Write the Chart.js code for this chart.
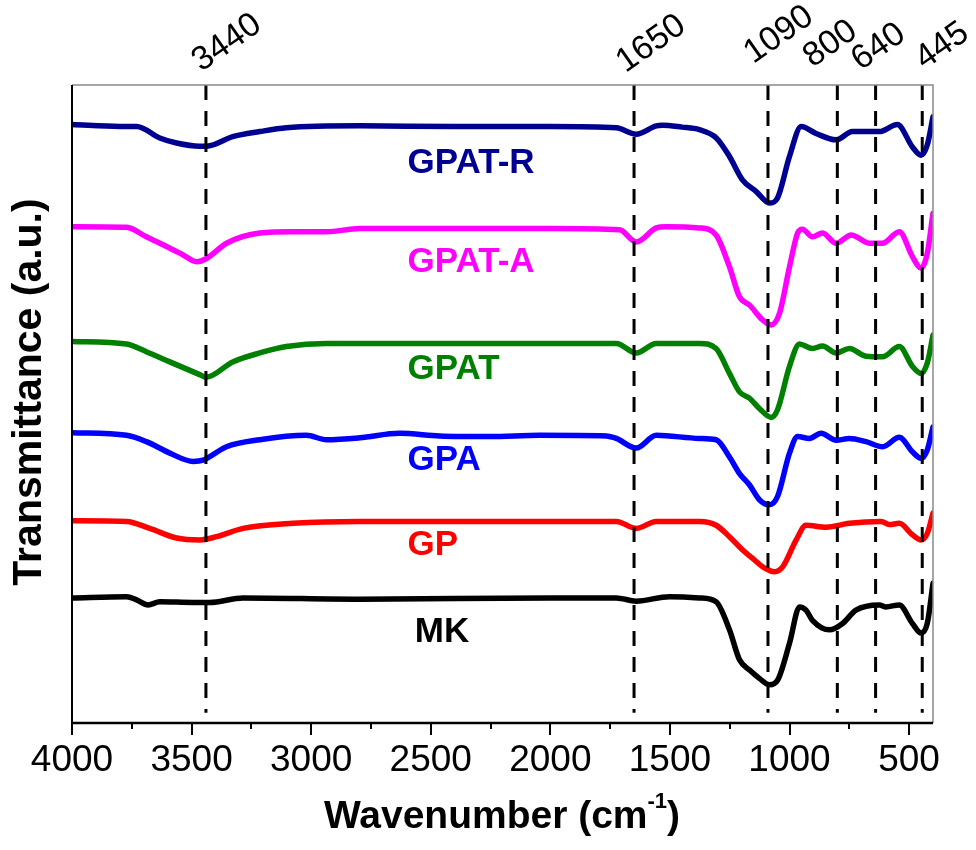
<!DOCTYPE html>
<html>
<head>
<meta charset="utf-8">
<title>FTIR spectra</title>
<script src="https://cdn.jsdelivr.net/npm/chart.js@4.4.0/dist/chart.umd.min.js"></script>
<style>
  html, body { margin: 0; padding: 0; background: #fff; }
  canvas { display: block; }
</style>
</head>
<body>
<canvas id="ftir" width="976" height="850"></canvas>
<script>
// Spectra: [wavenumber (cm-1), transmittance (a.u., offset per sample)]
const seriesNames = ['GPAT-R', 'GPAT-A', 'GPAT', 'GPA', 'GP', 'MK'];

const gpatR = [[4000,93.8],[3800,93.5],[3730,93.5],[3633,91.7],[3563,90.9],[3466,90.4],[3437,90.4],[3328,91.9],[3215,92.7],[3104,93.3],[2797,93.6],[2400,93.5],[2000,93.5],[1724,93.3],[1641,92.3],[1557,93.6],[1531,93.7],[1450,93.4],[1377,93.0],[1306,91.7],[1251,88.8],[1196,85.1],[1139,83.3],[1084,81.5],[1050,82.3],[1000,88.8],[951,93.5],[889,92.4],[805,91.4],[737,92.7],[624,92.7],[549,93.8],[486,90.3],[450,89.0],[424,90.6],[400,95.0]];

const gpatA = [[4000,77.8],[3772,77.7],[3689,76.2],[3605,74.7],[3537,73.4],[3480,72.3],[3438,72.8],[3354,75.2],[3215,76.8],[3077,77.0],[2936,77.0],[2797,77.5],[2400,77.5],[2000,77.5],[1711,77.3],[1641,75.4],[1557,77.6],[1516,77.8],[1377,77.6],[1307,76.5],[1251,71.5],[1209,66.8],[1167,65.5],[1113,63.2],[1077,62.4],[1042,64.2],[1000,71.5],[966,76.8],[946,77.4],[904,76.2],[862,76.8],[805,75.2],[742,76.5],[666,75.2],[611,75.2],[541,77.0],[486,73.1],[450,71.3],[424,73.6],[400,79.9]];

const gpat = [[4000,59.8],[3772,59.4],[3689,58.2],[3591,56.6],[3466,54.6],[3440,54.2],[3328,56.6],[3215,58.0],[3104,59.0],[2936,59.5],[2400,59.5],[2000,59.5],[1724,59.5],[1641,58.0],[1557,59.5],[1377,59.5],[1307,58.7],[1251,54.8],[1209,51.9],[1167,50.9],[1126,49.3],[1077,47.9],[1050,49.1],[1000,55.9],[958,59.4],[904,58.7],[862,59.1],[805,58.0],[750,58.7],[680,57.5],[611,57.4],[541,59.0],[486,55.9],[450,54.8],[424,56.4],[400,60.8]];

const gpa = [[4000,45.5],[3772,45.1],[3689,44.1],[3591,42.3],[3493,41.0],[3452,41.2],[3354,43.3],[3215,44.4],[3020,45.1],[2936,44.4],[2797,44.7],[2630,45.4],[2463,45.0],[2254,44.9],[2045,45.1],[1766,45.0],[1724,44.6],[1641,43.1],[1557,45.1],[1377,44.6],[1307,44.4],[1251,41.7],[1209,39.1],[1167,37.3],[1126,35.0],[1084,34.2],[1050,35.5],[1000,42.3],[966,44.9],[917,44.6],[868,45.4],[805,44.3],[750,44.6],[680,44.1],[610,43.3],[541,44.8],[486,42.5],[450,41.5],[424,42.8],[400,46.4]];

const gp = [[4000,31.7],[3772,31.6],[3675,30.5],[3563,29.0],[3466,28.7],[3396,29.2],[3285,30.5],[3076,31.3],[2797,31.6],[2000,31.6],[1724,31.6],[1641,30.5],[1557,31.6],[1377,31.6],[1307,31.0],[1251,29.2],[1196,27.1],[1154,25.8],[1105,24.3],[1063,23.7],[1028,24.5],[972,28.7],[931,31.0],[847,30.7],[750,31.3],[617,31.6],[583,31.1],[541,31.3],[486,29.5],[450,28.7],[424,29.7],[400,32.9]];

const mk = [[4000,19.6],[3772,19.8],[3730,19.3],[3682,18.5],[3633,19.0],[3493,18.9],[3424,18.9],[3285,19.6],[2797,19.4],[2000,19.6],[1724,19.6],[1641,19.1],[1502,19.8],[1377,19.6],[1307,19.0],[1251,14.6],[1209,9.9],[1167,8.3],[1126,7.0],[1084,6.0],[1050,6.7],[1000,12.5],[958,18.2],[931,17.7],[904,16.1],[833,14.6],[778,15.6],[722,17.7],[624,18.5],[597,18.2],[541,18.5],[486,15.6],[450,14.1],[424,15.6],[400,21.9]];

// Marked absorption bands (cm-1)
const bandPositions = [3440, 1650, 1090, 800, 640, 445];

// Bottom axis tick labels
const xTickLabels = ['4000', '3500', '3000', '2500', '2000', '1500', '1000', '500'];

// ---- styling ----
const seriesData = [gpatR, gpatA, gpat, gpa, gp, mk];
const seriesColors = ['#000090', '#ff00ff', '#008000', '#0000ff', '#ff0000', '#000000'];
// label anchor (wavenumber at left edge, level at text baseline)
const seriesLabelAnchor = [[2597, 86.2], [2597, 70.7], [2597, 53.9], [2597, 39.7], [2597, 26.3], [2567, 12.7]];
// band label offsets from the dashed line (px) and label centre height (px from top)
const bandLabelDx = [21, 17, 11, -7, 3, 20];
const bandLabelY = [43, 44, 35, 44, 47, 46];

const FONT = '"Liberation Sans", Arial, Helvetica, sans-serif';

const datasets = [];
bandPositions.forEach(v => {
  datasets.push({
    data: [{ x: v, y: 100 }, { x: v, y: 1.6 }],
    borderColor: '#000',
    borderWidth: 3,
    borderDash: [15, 11],
    pointRadius: 0,
    order: 0
  });
});
seriesData.forEach((s, i) => {
  datasets.push({
    label: seriesNames[i],
    data: s.map(p => ({ x: p[0], y: p[1] })),
    borderColor: seriesColors[i],
    borderWidth: 5.5,
    borderJoinStyle: 'round',
    borderCapStyle: 'round',
    pointRadius: 0,
    cubicInterpolationMode: 'monotone',
    order: 1
  });
});

const decor = {
  id: 'decor',
  afterDatasetsDraw(chart) {
    const { ctx, scales: { x, y } } = chart;
    ctx.save();
    // series names
    ctx.textAlign = 'left';
    ctx.textBaseline = 'alphabetic';
    ctx.font = 'bold 35px ' + FONT;
    seriesNames.forEach((n, i) => {
      ctx.fillStyle = seriesColors[i];
      ctx.fillText(n, x.getPixelForValue(seriesLabelAnchor[i][0]), y.getPixelForValue(seriesLabelAnchor[i][1]));
    });
    ctx.restore();
  },
  afterDraw(chart) {
    const { ctx, chartArea: a, scales: { x } } = chart;
    ctx.save();
    // frame: gray top/right, black left/bottom
    ctx.strokeStyle = '#8a8a8a';
    ctx.lineWidth = 1.5;
    ctx.beginPath();
    ctx.moveTo(a.left, a.top);
    ctx.lineTo(a.right, a.top);
    ctx.lineTo(a.right, a.bottom);
    ctx.stroke();
    ctx.strokeStyle = '#000';
    ctx.lineWidth = 2;
    ctx.beginPath();
    ctx.moveTo(a.left, a.top);
    ctx.lineTo(a.left, a.bottom);
    ctx.stroke();
    ctx.lineWidth = 2.5;
    ctx.beginPath();
    ctx.moveTo(a.left - 1, a.bottom);
    ctx.lineTo(a.right, a.bottom);
    ctx.stroke();
    // tick marks, majors every 500, minors between
    ctx.lineWidth = 2;
    for (let v = 4000; v >= 500; v -= 250) {
      const px = Math.round(x.getPixelForValue(v));
      const len = (v % 500 === 0) ? 12 : 6;
      ctx.beginPath();
      ctx.moveTo(px, a.bottom);
      ctx.lineTo(px, a.bottom + len);
      ctx.stroke();
    }
    // band labels above the plot
    ctx.fillStyle = '#000';
    ctx.font = '34px ' + FONT;
    ctx.textAlign = 'center';
    ctx.textBaseline = 'middle';
    bandPositions.forEach((v, i) => {
      ctx.save();
      ctx.translate(x.getPixelForValue(v) + bandLabelDx[i], bandLabelY[i]);
      ctx.rotate(-35 * Math.PI / 180);
      ctx.fillText(String(v), 0, 0);
      ctx.restore();
    });
    // y axis title
    ctx.save();
    ctx.translate(30, 392);
    ctx.rotate(-Math.PI / 2);
    ctx.font = 'bold 41px ' + FONT;
    ctx.textAlign = 'center';
    ctx.textBaseline = 'middle';
    ctx.fillText('Transmittance (a.u.)', 0, 0);
    ctx.restore();
    // x axis title with superscript
    const main = 'Wavenumber (cm', sup = '-1', close = ')';
    const fMain = 'bold 39px ' + FONT, fSup = 'bold 22px ' + FONT;
    ctx.textAlign = 'left';
    ctx.textBaseline = 'alphabetic';
    ctx.font = fMain;
    const wMain = ctx.measureText(main).width, wClose = ctx.measureText(close).width;
    ctx.font = fSup;
    const wSup = ctx.measureText(sup).width;
    let sx = 502 - (wMain + wSup + wClose) / 2;
    const base = 828;
    ctx.font = fMain;
    ctx.fillText(main, sx, base);
    sx += wMain;
    ctx.font = fSup;
    ctx.fillText(sup, sx, base - 20);
    sx += wSup;
    ctx.font = fMain;
    ctx.fillText(close, sx, base);
    ctx.restore();
  }
};

new Chart(document.getElementById('ftir'), {
  type: 'line',
  data: { datasets },
  options: {
    responsive: false,
    animation: false,
    devicePixelRatio: 1,
    layout: { padding: { left: 72, top: 85, right: 43, bottom: 0 } },
    plugins: { legend: { display: false }, tooltip: { enabled: false } },
    scales: {
      x: {
        type: 'linear',
        reverse: true,
        min: 400,
        max: 4000,
        grid: { display: false, drawTicks: false },
        border: { display: false },
        afterBuildTicks: s => { s.ticks = xTickLabels.map(t => ({ value: Number(t) })); },
        afterFit: s => { s.height = 127; },
        ticks: {
          autoSkip: false,
          maxRotation: 0,
          padding: 16,
          color: '#000',
          font: { family: FONT, size: 37 },
          callback: v => String(v)
        }
      },
      y: {
        display: false,
        min: 0,
        max: 100
      }
    }
  },
  plugins: [decor]
});
</script>
</body>
</html>
